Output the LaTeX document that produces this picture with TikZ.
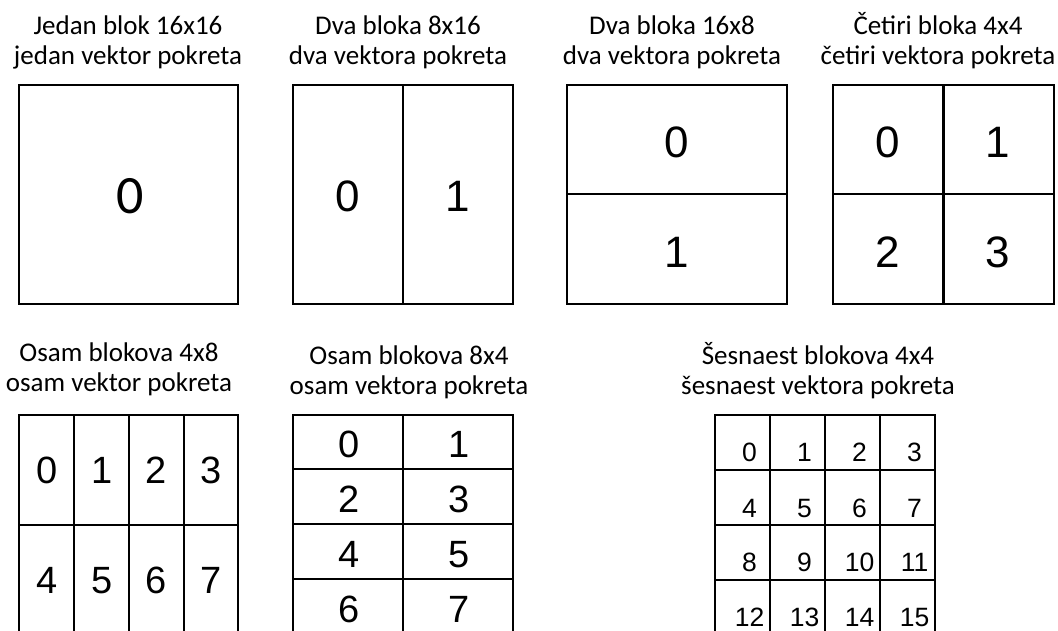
\documentclass[tikz,border=0pt]{standalone}
\usepackage{fontspec}
\setmainfont{Carlito}
\newfontfamily\arialfont{Liberation Sans}
\definecolor{Ink}{HTML}{000000}

\begin{document}
\begin{tikzpicture}[x=1pt,y=1pt,
    capt/.style={anchor=base,align=center,text=Ink,font=\fontsize{27}{30}\selectfont},
    boxline/.style={draw=Ink,line width=2.8pt},
    bignum/.style={anchor=base,inner sep=0pt,text=Ink,font=\arialfont\fontsize{44}{48}\selectfont},
    midnum/.style={anchor=base,inner sep=0pt,text=Ink,font=\arialfont\fontsize{38}{42}\selectfont},
    smallnum/.style={anchor=base,inner sep=0pt,text=Ink,font=\arialfont\fontsize{26.5}{30}\selectfont}]
        \clip (0,0) rectangle (1058,-630);

        % top row (caption nodes sit on the baseline of their last line)
        \node[capt] (capA) at (128,-64) {Jedan blok 16x16\\jedan vektor pokreta};
        \draw[boxline] (19,-85) rectangle (238,-304);
        \node[anchor=base,inner sep=0pt,text=Ink,font=\fontsize{54}{58}\selectfont] (a0) at (130,-213) {0};

        \node[capt] (capB) at (398,-64) {Dva bloka 8x16\\dva vektora pokreta};
        \draw[boxline] (293,-85) rectangle (513,-304) (403,-85) -- (403,-304);
        \node[bignum] (b0) at (348,-211.5) {0};
        \node[bignum] (b1) at (458,-211.5) {1};

        \node[capt] (capC) at (672,-64) {Dva bloka 16x8\\dva vektora pokreta};
        \draw[boxline] (567,-85) rectangle (787,-304) (567,-194) -- (787,-194);
        \node[bignum] (c0) at (677,-157) {0};
        \node[bignum] (c1) at (677,-267) {1};

        \node[capt] (capD) at (938,-64) {Četiri bloka 4x4\\četiri vektora pokreta};
        \draw[boxline] (833,-85) rectangle (1054,-304) (943.5,-85) -- (943.5,-304) (833,-194) -- (1054,-194);
        \node[bignum] (d0) at (888,-157) {0};
        \node[bignum] (d1) at (998,-157) {1};
        \node[bignum] (d2) at (888,-267) {2};
        \node[bignum] (d3) at (998,-267) {3};

        % bottom row, cut off at the lower edge
        \node[capt] (capE) at (119,-391) {Osam blokova 4x8\\osam vektor pokreta};
        \draw[boxline] (19,-415) rectangle (238,-634) (19,-525) -- (238,-525);
        \foreach \x in {74,129,184} \draw[boxline] (\x,-415) -- (\x,-634);
        \foreach \r/\yb in {0/483,1/593}
          \foreach \c in {0,...,3} {
            \pgfmathtruncatemacro\k{4*\r+\c}
            \node[midnum] (e\k) at (47+54.75*\c,-\yb) {\k};
          }

        \node[capt] (capF) at (409,-394) {Osam blokova 8x4\\osam vektora pokreta};
        \draw[boxline] (293,-415) rectangle (513,-634) (403,-415) -- (403,-634);
        \foreach \y in {469,524,579} \draw[boxline] (293,-\y) -- (513,-\y);
        \foreach \r/\yb in {0/457,1/512,2/567,3/622}
          \foreach \c in {0,1} {
            \pgfmathtruncatemacro\k{2*\r+\c}
            \node[midnum] (f\k) at (349+110*\c,-\yb) {\k};
          }

        \node[capt] (capG) at (818,-394) {Šesnaest blokova 4x4\\šesnaest vektora pokreta};
        \draw[boxline] (715,-415) rectangle (935,-635);
        \foreach \x in {770,825,880} \draw[boxline] (\x,-415) -- (\x,-635);
        \foreach \y in {470,525,580} \draw[boxline] (715,-\y) -- (935,-\y);
        \foreach \r/\yb in {0/461,1/517,2/571,3/626}
          \foreach \c in {0,...,3} {
            \pgfmathtruncatemacro\k{4*\r+\c}
            \node[smallnum] (g\k) at (749.5+55*\c,-\yb) {\k};
          }
      \end{tikzpicture}
\end{document}
